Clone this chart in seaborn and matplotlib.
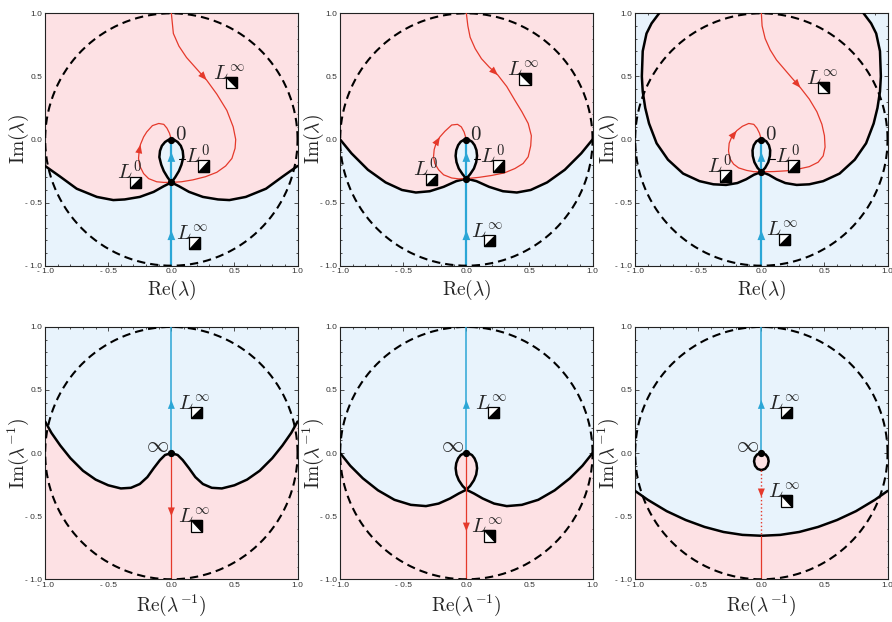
import matplotlib
matplotlib.use("Agg")
import matplotlib.pyplot as plt
import seaborn as sns
import numpy as np
from matplotlib.patches import Polygon

sns.set_theme(style="ticks")
plt.rcParams['mathtext.fontset'] = 'cm'
plt.rcParams['font.family'] = ['Liberation Sans', 'DejaVu Sans']

PINK = "#fde1e4"
BLUE_BG = "#e8f3fc"
RED = "#e5392b"
BLUE = "#2ba6d6"

TICKS = [-1.0, -0.5, 0.0, 0.5, 1.0]
TICK_LABELS = ["- 1.0", "- 0.5", "0.0", "0.5", "1.0"]

# ---- top row (lambda plane) : boundary left halves (edge -> centre cusp)
B1_X = [-1.0, -0.88, -0.75, -0.59, -0.46, -0.37, -0.25, -0.14, -0.06, 0.0]
B1_Y = [-0.21, -0.295, -0.39, -0.455, -0.48, -0.475, -0.455, -0.415, -0.37, -0.34]
B2_X = [-1.0, -0.91, -0.78, -0.64, -0.51, -0.40, -0.29, -0.18, -0.08, 0.0]
B2_Y = [0.0, -0.11, -0.24, -0.34, -0.40, -0.42, -0.41, -0.375, -0.33, -0.31]
B3_X = [-0.81, -0.87, -0.91, -0.94, -0.947, -0.94, -0.92, -0.89, -0.83, -0.74, -0.62, -0.49, -0.38, -0.28, -0.19, -0.12, -0.06, 0.0]
B3_Y = [1.0, 0.92, 0.84, 0.70, 0.5, 0.38, 0.25, 0.127, -0.03, -0.16, -0.27, -0.33, -0.355, -0.36, -0.345, -0.315, -0.28, -0.256]

# small loops: right halves (cusp -> 0)
L1_X = [0.0, 0.03, 0.06, 0.08, 0.095, 0.09, 0.075, 0.05, 0.025, 0.0]
L1_Y = [-0.34, -0.30, -0.25, -0.20, -0.14, -0.09, -0.05, -0.02, -0.004, 0.0]
L2_X = [0.0, 0.03, 0.06, 0.078, 0.085, 0.08, 0.065, 0.045, 0.022, 0.0]
L2_Y = [-0.31, -0.275, -0.23, -0.18, -0.13, -0.085, -0.045, -0.018, -0.004, 0.0]
L3_X = [0.0, 0.03, 0.055, 0.068, 0.07, 0.06, 0.04, 0.02, 0.0]
L3_Y = [-0.256, -0.225, -0.18, -0.13, -0.085, -0.045, -0.015, -0.003, 0.0]

# red contours
R1_X = [0.0, 0.016, 0.06, 0.12, 0.2, 0.28, 0.36, 0.44, 0.49, 0.51, 0.505, 0.48, 0.43, 0.36, 0.27, 0.17, 0.08, 0.0,
        -0.06, -0.116, -0.18, -0.22, -0.25, -0.26, -0.255, -0.245, -0.22, -0.195, -0.15, -0.1, -0.06, -0.035, -0.015, 0.0]
R1_Y = [1.0, 0.84, 0.74, 0.65, 0.56, 0.47, 0.36, 0.23, 0.10, 0.0, -0.07, -0.15, -0.21, -0.26, -0.295, -0.32, -0.335, -0.34,
        -0.34, -0.335, -0.31, -0.27, -0.21, -0.15, -0.09, -0.04, 0.02, 0.06, 0.11, 0.127, 0.12, 0.09, 0.05, 0.0]
R2_X = [0.0, 0.012, 0.03, 0.07, 0.12, 0.18, 0.25, 0.32, 0.385, 0.44, 0.49, 0.515, 0.51, 0.49, 0.45, 0.385, 0.30, 0.2, 0.1, 0.0,
        -0.06, -0.116, -0.18, -0.22, -0.25, -0.26, -0.255, -0.24, -0.21, -0.17, -0.116, -0.07, -0.04, -0.018, 0.0]
R2_Y = [1.0, 0.9, 0.81, 0.72, 0.64, 0.575, 0.51, 0.42, 0.31, 0.22, 0.127, 0.03, -0.05, -0.137, -0.19, -0.23, -0.265, -0.285, -0.30, -0.31,
        -0.312, -0.305, -0.28, -0.24, -0.19, -0.137, -0.08, -0.03, 0.02, 0.065, 0.115, 0.12, 0.1, 0.06, 0.0]
R3_X = [0.0, 0.006, 0.03, 0.07, 0.12, 0.18, 0.24, 0.31, 0.38, 0.44, 0.48, 0.50, 0.505, 0.49, 0.45, 0.38, 0.29, 0.2, 0.1, 0.0,
        -0.06, -0.116, -0.18, -0.22, -0.25, -0.26, -0.255, -0.235, -0.195, -0.15, -0.1, -0.06, -0.035, -0.015, 0.0]
R3_Y = [1.0, 0.9, 0.8, 0.71, 0.63, 0.56, 0.49, 0.41, 0.32, 0.22, 0.12, 0.03, -0.06, -0.13, -0.18, -0.215, -0.235, -0.248, -0.254, -0.256,
        -0.255, -0.245, -0.225, -0.195, -0.15, -0.09, -0.03, 0.02, 0.07, 0.105, 0.127, 0.12, 0.09, 0.05, 0.0]

# ---- bottom row (1/lambda plane)
B4_X = [-1.0, -0.95, -0.88, -0.80, -0.70, -0.60, -0.50, -0.40, -0.32, -0.25, -0.19, -0.14, -0.09, -0.05, 0.0]
B4_Y = [0.25, 0.16, 0.06, -0.04, -0.14, -0.21, -0.255, -0.28, -0.275, -0.245, -0.19, -0.12, -0.055, -0.015, 0.0]
B5_X = [-1.0, -0.92, -0.82, -0.70, -0.57, -0.44, -0.32, -0.22, -0.13, -0.06, 0.0]
B5_Y = [0.0, -0.10, -0.20, -0.295, -0.37, -0.41, -0.42, -0.40, -0.36, -0.32, -0.29]
L5_X = [0.0, 0.03, 0.06, 0.078, 0.085, 0.08, 0.065, 0.045, 0.022, 0.0]
L5_Y = [-0.29, -0.26, -0.215, -0.17, -0.12, -0.08, -0.042, -0.016, -0.003, 0.0]
B6_X = [-1.0, -0.9, -0.75, -0.6, -0.45, -0.3, -0.15, 0.0]
B6_Y = [-0.30, -0.37, -0.46, -0.53, -0.585, -0.625, -0.648, -0.655]
O6_X = [0.0, 0.03, 0.05, 0.058, 0.052, 0.035, 0.015, 0.0]
O6_Y = [-0.135, -0.125, -0.1, -0.065, -0.035, -0.012, -0.002, 0.0]


def mirror_open(xl, yl):
    x = list(xl) + [-v for v in reversed(xl[:-1])]
    y = list(yl) + list(reversed(yl[:-1]))
    return x, y


def mirror_closed(xr, yr):
    x = list(xr) + [-v for v in reversed(xr[:-1])]
    y = list(yr) + list(reversed(yr[:-1]))
    return x, y


def line(ax, x, y, color="black", lw=1.8, ls="-", z=3):
    sns.lineplot(x=x, y=y, sort=False, estimator=None, color=color, lw=lw, ls=ls, ax=ax, zorder=z)


def arrow(ax, p0, p1, color, ms=9):
    ax.annotate("", xy=p1, xytext=p0,
                arrowprops=dict(arrowstyle="-|>,head_length=0.7,head_width=0.28", color=color, lw=0,
                                shrinkA=0, shrinkB=0, mutation_scale=ms), zorder=6)


def symbol(ax, x, y, kind, s=0.09):
    ax.add_patch(Polygon([(x, y), (x + s, y), (x + s, y + s), (x, y + s)], closed=True,
                         facecolor="white", edgecolor="black", lw=0.9, zorder=7))
    if kind == "lr":
        tri = [(x + s, y + s), (x + s, y), (x, y)]
    elif kind == "ur":
        tri = [(x, y + s), (x + s, y + s), (x + s, y)]
    else:
        tri = [(x, y + s), (x, y), (x + s, y)]
    ax.add_patch(Polygon(tri, closed=True, facecolor="black", edgecolor="black", lw=0.9, zorder=8))


def label(ax, x, y, sup, kind):
    ax.text(x, y, r"$L^{%s}$" % sup, fontsize=15, ha="left", va="baseline", zorder=7)
    symbol(ax, x + 0.10, y - 0.065, kind)


def frame(ax, bottom_row):
    ax.set_xlim(-1, 1)
    ax.set_ylim(-1, 1)
    ax.set_aspect("equal")
    ax.set_xticks(TICKS)
    ax.set_yticks(TICKS)
    ax.set_xticklabels(TICK_LABELS)
    ax.set_yticklabels(TICK_LABELS)
    ax.set_xticks(np.arange(-1, 1.01, 0.1), minor=True)
    ax.set_yticks(np.arange(-1, 1.01, 0.1), minor=True)
    ax.tick_params(which="both", direction="in", top=True, right=True, width=0.6, colors="#333333",
                   labelsize=6.0, pad=2)
    ax.tick_params(which="major", length=3)
    ax.tick_params(which="minor", length=1.6)
    for sp in ax.spines.values():
        sp.set_linewidth(0.8)
        sp.set_color("#222222")
    t = np.linspace(0, 2 * np.pi, 400)
    ax.plot(np.cos(t), np.sin(t), color="black", lw=1.5, ls=(0, (4, 2.4)), zorder=4)
    if bottom_row:
        ax.set_xlabel(r"$\mathrm{Re}(\lambda^{-1})$", fontsize=14)
        ax.set_ylabel(r"$\mathrm{Im}(\lambda^{-1})$", fontsize=14)
        ax.xaxis.set_label_coords(0.5, -0.105)
    else:
        ax.set_xlabel(r"$\mathrm{Re}(\lambda)$", fontsize=14)
        ax.set_ylabel(r"$\mathrm{Im}(\lambda)$", fontsize=14)
        ax.xaxis.set_label_coords(0.5, -0.095)
    ax.xaxis.label.set_va("center")
    ax.yaxis.label.set_va("center")
    ax.yaxis.set_label_coords(-0.105, 0.5)


fig = plt.figure(figsize=(8.92, 6.22), dpi=100)
lefts = [45 / 892, 340 / 892, 635 / 892]
w = 252.7 / 892
h = 252.4 / 622
axes_top = [fig.add_axes([l, 356.3 / 622, w, h]) for l in lefts]
axes_bot = [fig.add_axes([l, 42.7 / 622, w, h]) for l in lefts]

# ---------------- top row ----------------
tops = [(B1_X, B1_Y, L1_X, L1_Y, R1_X, R1_Y), (B2_X, B2_Y, L2_X, L2_Y, R2_X, R2_Y),
        (B3_X, B3_Y, L3_X, L3_Y, R3_X, R3_Y)]
red_arrows = [((4, 5), (24, 25)), ((5, 6), (27, 28)), ((6, 7), (27, 28))]
blue_tips = [(-0.72, -0.10), (-0.72, -0.10), (-0.72, -0.10)]
lab_top = [
    dict(up=(0.33, 0.47), l0l=(-0.43, -0.32), l0r=(0.11, -0.19), low=(0.04, -0.80)),
    dict(up=(0.32, 0.50), l0l=(-0.42, -0.295), l0r=(0.11, -0.19), low=(0.04, -0.78)),
    dict(up=(0.35, 0.43), l0l=(-0.43, -0.27), l0r=(0.11, -0.19), low=(0.04, -0.77)),
]
for i, ax in enumerate(axes_top):
    bx, by, lx, ly, rx, ry = tops[i]
    fx, fy = mirror_open(bx, by)
    lpx, lpy = mirror_closed(lx, ly)
    ax.set_facecolor(BLUE_BG)
    if i < 2:
        ax.add_patch(Polygon(list(zip(fx, fy)) + [(1, 1), (-1, 1)], closed=True, facecolor=PINK,
                             edgecolor="none", zorder=1))
    else:
        ax.add_patch(Polygon(list(zip(fx, fy)), closed=True, facecolor=PINK, edgecolor="none", zorder=1))
    ax.add_patch(Polygon(list(zip(lpx, lpy)), closed=True, facecolor=BLUE_BG, edgecolor="none", zorder=1))
    frame(ax, False)
    line(ax, fx, fy)
    line(ax, lpx, lpy)
    line(ax, [0, 0], [-1, 0], color=BLUE, lw=1.6, z=3.5)
    line(ax, rx, ry, color=RED, lw=0.9, z=3.6)
    for a, b in red_arrows[i]:
        arrow(ax, (rx[a], ry[a]), (rx[b], ry[b]), RED)
    for tip in blue_tips[i]:
        arrow(ax, (0, tip - 0.06), (0, tip), BLUE, ms=10)
    ax.plot([0, 0], [0, by[-1]], "o", color="black", ms=4.2, zorder=6)
    ax.text(0.03, -0.005, r"$0$", fontsize=15, ha="left", va="baseline", zorder=7)
    d = lab_top[i]
    label(ax, *d["up"], r"\infty", "ur")
    label(ax, *d["l0l"], "0", "lr")
    label(ax, *d["l0r"], "0", "lr")
    ax.plot([0.06, 0.11], [-0.155, -0.155], color="black", lw=0.8, zorder=7)
    label(ax, *d["low"], r"\infty", "lr")

# ---------------- bottom row ----------------
# panel 4
ax = axes_bot[0]
ax.set_facecolor(BLUE_BG)
fx, fy = mirror_open(B4_X, B4_Y)
ax.add_patch(Polygon(list(zip(fx, fy)) + [(1, -1), (-1, -1)], closed=True, facecolor=PINK, edgecolor="none", zorder=1))
frame(ax, True)
line(ax, fx, fy)
line(ax, [0, 0], [0, 1], color=BLUE, lw=1.1, z=3.5)
line(ax, [0, 0], [0, -1], color=RED, lw=0.9, z=3.5)
arrow(ax, (0, 0.36), (0, 0.42), BLUE)
arrow(ax, (0, -0.44), (0, -0.50), RED)
ax.plot([0], [0], "o", color="black", ms=4.2, zorder=6)
ax.text(-0.02, 0.01, r"$\infty$", fontsize=16, ha="right", va="baseline", zorder=7)
label(ax, 0.055, 0.34, r"\infty", "lr")
label(ax, 0.055, -0.557, r"\infty", "ur")

# panel 5
ax = axes_bot[1]
ax.set_facecolor(BLUE_BG)
fx, fy = mirror_open(B5_X, B5_Y)
lpx, lpy = mirror_closed(L5_X, L5_Y)
ax.add_patch(Polygon(list(zip(fx, fy)) + [(1, -1), (-1, -1)], closed=True, facecolor=PINK, edgecolor="none", zorder=1))
ax.add_patch(Polygon(list(zip(lpx, lpy)), closed=True, facecolor=PINK, edgecolor="none", zorder=1))
frame(ax, True)
line(ax, fx, fy)
line(ax, lpx, lpy)
line(ax, [0, 0], [0, 1], color=BLUE, lw=1.1, z=3.5)
line(ax, [0, 0], [0, -1], color=RED, lw=0.9, z=3.5)
arrow(ax, (0, 0.36), (0, 0.42), BLUE)
arrow(ax, (0, -0.56), (0, -0.62), RED)
ax.plot([0], [0], "o", color="black", ms=4.2, zorder=6)
ax.text(-0.02, 0.01, r"$\infty$", fontsize=16, ha="right", va="baseline", zorder=7)
label(ax, 0.07, 0.34, r"\infty", "lr")
label(ax, 0.04, -0.636, r"\infty", "ur")

# panel 6
ax = axes_bot[2]
ax.set_facecolor(BLUE_BG)
fx, fy = mirror_open(B6_X, B6_Y)
ox, oy = mirror_closed(O6_X, O6_Y)
ax.add_patch(Polygon(list(zip(fx, fy)) + [(1, -1), (-1, -1)], closed=True, facecolor=PINK, edgecolor="none", zorder=1))
ax.add_patch(Polygon(list(zip(ox, oy)), closed=True, facecolor=PINK, edgecolor="none", zorder=1))
frame(ax, True)
line(ax, fx, fy)
line(ax, ox, oy)
line(ax, [0, 0], [0, 1], color=BLUE, lw=1.1, z=3.5)
line(ax, [0, 0], [O6_Y[0], B6_Y[-1]], color=RED, lw=1.0, ls=":", z=3.5)
line(ax, [0, 0], [B6_Y[-1], -1], color=RED, lw=0.9, z=3.5)
arrow(ax, (0, 0.36), (0, 0.42), BLUE)
arrow(ax, (0, -0.29), (0, -0.35), RED)
ax.plot([0], [0], "o", color="black", ms=4.2, zorder=6)
ax.text(-0.02, 0.01, r"$\infty$", fontsize=16, ha="right", va="baseline", zorder=7)
label(ax, 0.055, 0.34, r"\infty", "lr")
label(ax, 0.055, -0.36, r"\infty", "ur")

fig.savefig("out.png", dpi=100)
